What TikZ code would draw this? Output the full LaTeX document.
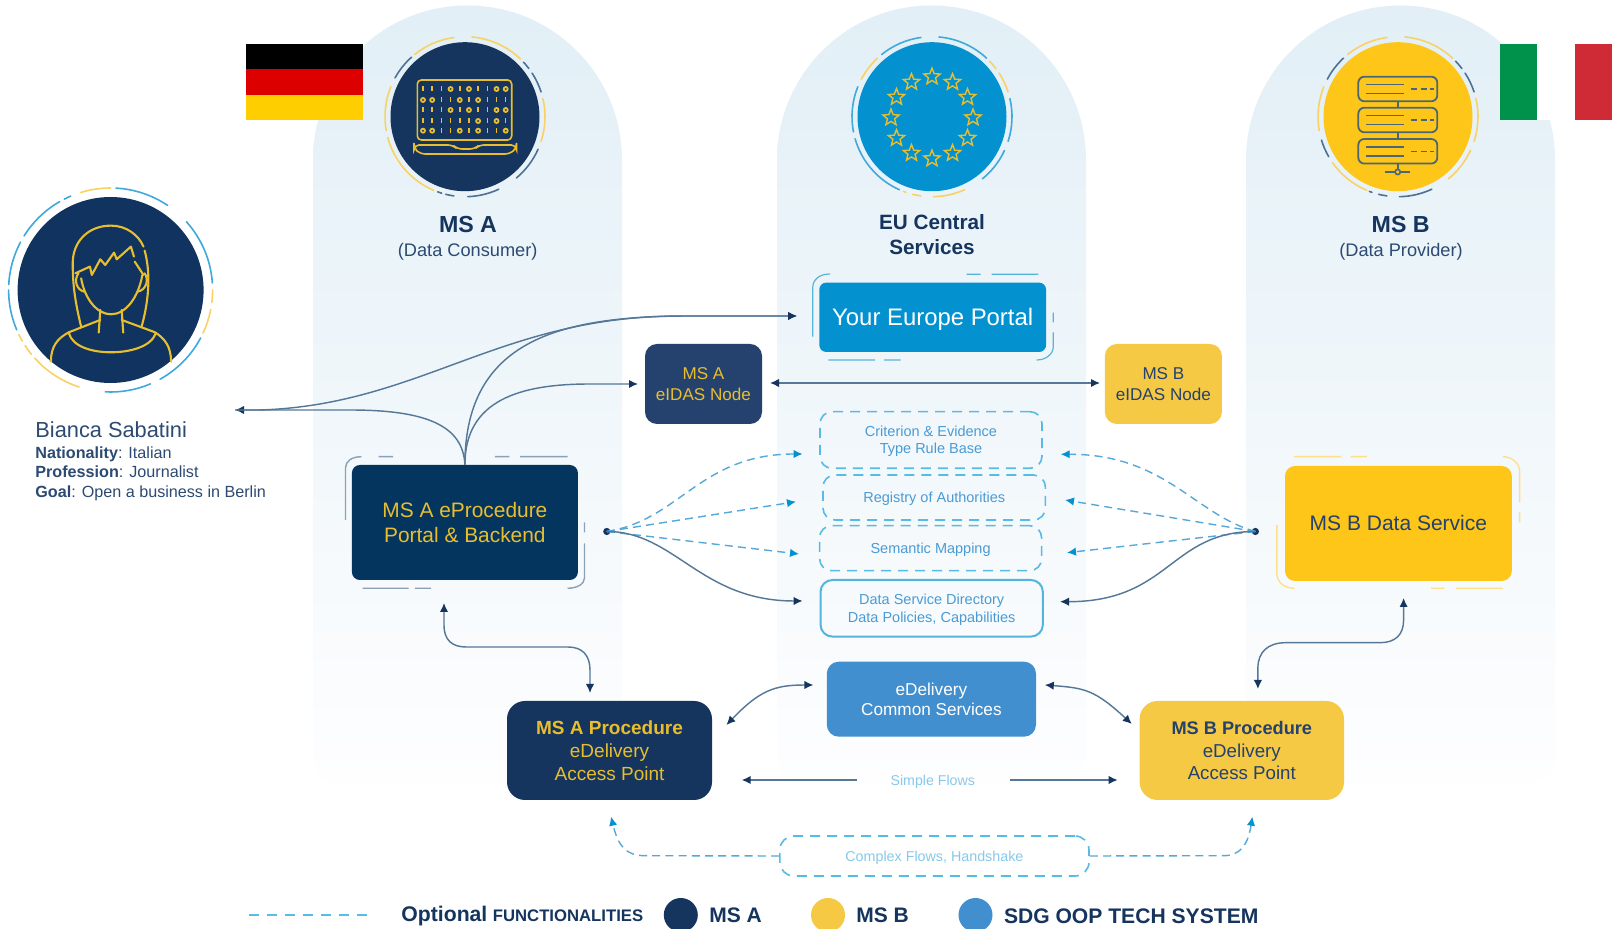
\documentclass[tikz,border=0pt]{standalone}
\usepackage{fontspec}
\setmainfont{Liberation Sans}
\usetikzlibrary{arrows.meta,shapes.geometric,calc}
\definecolor{navy}{HTML}{15355E}
\definecolor{navyb}{HTML}{04355F}
\definecolor{navyc}{HTML}{24426D}
\definecolor{persona}{HTML}{10345F}
\definecolor{eublue}{HTML}{0392CF}
\definecolor{midblue}{HTML}{418FCE}
\definecolor{gold}{HTML}{FFC61A}
\definecolor{softgold}{HTML}{F6C945}
\definecolor{icongold}{HTML}{E8BE2E}
\definecolor{ringyel}{HTML}{F8D266}
\definecolor{ringblue}{HTML}{3FA9DC}
\definecolor{ringnavy}{HTML}{4C7296}
\definecolor{pale}{HTML}{55B4DC}
\definecolor{paleyel}{HTML}{FFE08A}
\definecolor{grayframe}{HTML}{8CA1B5}
\definecolor{dashcol}{HTML}{57BBE3}
\definecolor{flowcol}{HTML}{55A9D8}
\definecolor{linecol}{HTML}{557899}
\definecolor{smalltxt}{HTML}{4A9BD4}
\definecolor{ghost}{HTML}{87C9EA}
\definecolor{headtxt}{HTML}{2C4A72}
\definecolor{servercol}{HTML}{4B6775}
\definecolor{flagred}{HTML}{DD0000}
\definecolor{flagyel}{HTML}{FFCE00}
\definecolor{itg}{HTML}{00924A}
\definecolor{itr}{HTML}{CE2B37}
\definecolor{colhi}{HTML}{E2EFF6}
\definecolor{collo}{HTML}{FEFEFF}
\newcommand{\fs}[1]{\fontsize{#1}{\fpeval{#1*1.2}}\selectfont}
\tikzset{
  tipD/.tip={Latex[length=4.5pt,width=4.2pt,color=navy]},
  tipL/.tip={Latex[length=4.5pt,width=4.2pt,color=eublue]},
  bx/.style={rounded corners=6pt,inner sep=0pt,align=center},
  dbox/.style={bx,text depth=0pt,draw=dashcol,line width=.8pt,dash pattern=on 5pt off 3.5pt,text=smalltxt},
  txt/.style={inner sep=0pt,align=center},
  flow/.style={draw=linecol,line width=.72pt},
  opt/.style={draw=flowcol,line width=.7pt,dash pattern=on 4pt off 2.6pt},
  ring/.style={line width=.8pt,line cap=round},
  colshade/.style={top color=colhi,bottom color=collo},
  disc/.style={circle,inner sep=0pt},
}
\newcommand{\columnshape}[1]{%
  \shade[colshade] (#1,160) arc[start angle=180,end angle=360,radius=154.5]
    -- ({#1+309},755) arc[start angle=0,end angle=90,radius=30]
    -- ({#1+30},785) arc[start angle=90,end angle=180,radius=30] -- cycle;}
\begin{document}
\begin{tikzpicture}[x=0.5pt,y=-0.5pt]
\useasboundingbox (0,0) rectangle (1614,929);
\fill[white] (0,0) rectangle (1614,929);
% columns
\columnshape{313}
\columnshape{777}
\columnshape{1246}
% flags
\fill[black] (246,44) rectangle (363,69.5);
\fill[flagred] (246,69.5) rectangle (363,95);
\fill[flagyel] (246,95) rectangle (363,120);
\fill[white] (1537,44) rectangle (1575,120);
\fill[itg] (1500,44) rectangle (1537,120);
\fill[itr] (1575,44) rectangle (1612,120);
% discs
\node[disc,fill=persona,minimum size=93pt] (person) at (110.6,290) {};
\node[disc,fill=navy,minimum size=74.5pt] (discA) at (465,116.7) {};
\node[disc,fill=eublue,minimum size=74.5pt] (discEU) at (932,116.7) {};
\node[disc,fill=gold,minimum size=74.5pt] (discB) at (1398,116.7) {};
% rings
\begin{scope}[shift={(110.6,290)},yscale=-1]
\foreach \c/\a/\b in {ringyel/107/90,ringblue/87/56,ringblue/42/4,ringyel/0/-7,ringyel/-11/-25,ringblue/-28/-61,ringblue/-67/-93,ringyel/-108/-138,ringyel/-141/-147,ringyel/-150/-154,ringblue/-157/-180,ringblue/177/152,ringblue/148/120,ringblue/117/113}
  \draw[ring,\c] (\a:102) arc[start angle=\a,end angle=\b,radius=102];
\end{scope}
\begin{scope}[shift={(465,116.7)},yscale=-1]
\foreach \c/\a/\b in {ringyel/129/98,ringyel/85/46,ringnavy/43/37,ringnavy/33/18,ringyel/13/-18,ringnavy/-24/-50,ringnavy/-65/-88,ringnavy/-98/-104,ringnavy/-107/-110,ringyel/-113/-165,ringyel/-170/-202,ringnavy/151/132}
  \draw[ring,\c] (\a:80) arc[start angle=\a,end angle=\b,radius=80];
\end{scope}
\begin{scope}[shift={(932,116.7)},yscale=-1]
\foreach \c/\a/\b in {ringyel/152/133,ringblue/129/98,ringblue/85/47,ringyel/44/37,ringyel/33/18,ringblue/13/-18,ringblue/-25/-51,ringyel/-66/-89,ringyel/-98/-104,ringyel/-109/-111,ringblue/-114/-164,ringblue/-169/-202}
  \draw[ring,\c] (\a:80) arc[start angle=\a,end angle=\b,radius=80];
\end{scope}
\begin{scope}[shift={(1398,116.7)},yscale=-1]
\foreach \c/\a/\b in {ringyel/129/98,ringyel/85/47,ringnavy/44/37,ringnavy/33/18,ringyel/13/-18,ringyel/-25/-51,ringnavy/-65/-89,ringnavy/-98/-104,ringnavy/-109/-111,ringyel/-113/-145,ringnavy/-150/-163,ringyel/-170/-202,ringnavy/152/133}
  \draw[ring,\c] (\a:80) arc[start angle=\a,end angle=\b,radius=80];
\end{scope}
% stars
\foreach \k in {0,30,...,330}
  \node[star,star points=5,star point ratio=2.3,draw=icongold,line width=.7pt,inner sep=0pt,minimum size=8.6pt] (st\k) at ($(discEU)+(\k:41)+(0,1)$) {};
% laptop
\draw[icongold,line width=.8pt,rounded corners=2pt] (417.3,80) rectangle (511.7,140);
\draw[icongold,line width=.8pt,rounded corners=2.5pt] (414,145) -- (453,145) -- (457,149) -- (475,149) -- (479,145) -- (516.5,145) -- (516.5,148) -- (510,154) -- (420,154) -- (414,148) -- cycle;
\foreach \yy/\pat in {89/{0,0,0,1,0,1,0,0,1,1},100/{1,1,0,0,1,0,1,0,0,0},110/{0,0,0,1,0,1,0,0,1,1},121/{0,0,0,0,0,0,1,0,1,0},130.7/{1,1,0,0,1,0,1,0,0,1}}{
  \foreach \v [count=\i, evaluate=\i as \xx using 423+(\i-1)*9.19] in \pat {
    \ifnum\v=1 \draw[icongold,line width=.9pt] (\xx,\yy) circle (2);
    \else \draw[icongold,line width=.75pt] (\xx,\yy-2.5) -- (\xx,\yy+2.5); \fi
  }
}
% server
\foreach \ty in {76.7,107.7,139}{
  \draw[servercol,line width=.9pt,rounded corners=3pt] (1358.3,\ty) rectangle (1437.3,\ty+24.6);
  \draw[servercol,line width=.8pt] (1366,\ty+8) -- (1404,\ty+8);
  \draw[servercol,line width=.8pt] (1366,\ty+17) -- (1404,\ty+17);
  \draw[servercol,line width=.8pt,dash pattern=on 3.2pt off 1.6pt] (1411,\ty+12.5) -- (1434,\ty+12.5);
}
\draw[servercol,line width=.9pt] (1397.7,101.3) -- (1397.7,107.7) (1397.7,132.3) -- (1397.7,139) (1397.7,163.6) -- (1397.7,169.5);
\draw[servercol,line width=.9pt] (1385,172) -- (1395,172) (1400.5,172) -- (1410,172);
\draw[servercol,line width=.8pt] (1397.7,172) circle (2.6);
% person icon
\begin{scope}[xscale=.3827,yscale=.3333,icongold,line width=1.05pt,line cap=round,line join=round]
\draw (212,980) .. controls (195,900) and (190,850) .. (190,790) .. controls (190,725) and (230,677) .. (290,677) .. controls (330,677) and (362,705) .. (375,740);
\draw (378,752) .. controls (392,810) and (392,890) .. (370,980);
\draw (197,820) -- (235,800) -- (240,825) -- (262,778) -- (275,795) -- (298,758) -- (305,778) -- (342,740) -- (350,770);
\draw (352,785) -- (375,825);
\draw (212,835) .. controls (222,900) and (255,943) .. (290,943) .. controls (330,943) and (362,890) .. (372,825);
\draw (205,820) .. controls (192,840) and (200,870) .. (220,875);
\draw (378,820) .. controls (390,840) and (382,870) .. (360,875);
\draw (262,930) -- (258,998) (318,930) -- (322,998);
\draw (262,960) -- (180,997) .. controls (150,1015) and (133,1040) .. (133,1085);
\draw (318,960) -- (405,997) .. controls (430,1015) and (447,1040) .. (447,1085);
\draw (180,1000) .. controls (190,1040) and (240,1057) .. (290,1057) .. controls (340,1057) and (395,1040) .. (407,1000);
\end{scope}
% headings
\node[txt,text=navy,font=\bfseries\fs{11.6}] (hA) at (468,225) {MS A};
\node[txt,text=headtxt,font=\fs{9.1}] (sA) at (467.7,251.5) {(Data Consumer)};
\node[txt,text=navy,font=\bfseries\fs{10.35}] (hEU) at (932,235) {EU Central\\Services};
\node[txt,text=navy,font=\bfseries\fs{11.6}] (hB) at (1400.7,225) {MS B};
\node[txt,text=headtxt,font=\fs{9.1}] (sB) at (1401,251.5) {(Data Provider)};
% person text
\node[inner sep=0pt,anchor=base west,text=headtxt,font=\fs{10.9}] (bName) at (35,438) {Bianca Sabatini};
\node[inner sep=0pt,anchor=base west,text=headtxt,font=\fs{8.08}] (bNat) at (35,458.5) {\textbf{Nationality}: Italian};
\node[inner sep=0pt,anchor=base west,text=headtxt,font=\fs{8.08}] (bPro) at (35,478) {\textbf{Profession}: Journalist};
\node[inner sep=0pt,anchor=base west,text=headtxt,font=\fs{8.08}] (bGoal) at (35,497.5) {\textbf{Goal}: Open a business in Berlin};
% boxes
\node[bx,text depth=0pt,fill=eublue,text=white,font=\fs{11.95},minimum width=113.4pt,minimum height=34.7pt,rounded corners=3.5pt] (portal) at (932.7,317.3) {Your Europe Portal};
\node[bx,fill=navyc,text=icongold,font=\fs{8.55},minimum width=58.5pt,minimum height=40pt] (eidasA) at (703.5,384) {MS A\\eIDAS Node};
\node[bx,fill=softgold,text=navyc,font=\fs{8.55},minimum width=58.5pt,minimum height=40pt] (eidasB) at (1163.4,384) {MS B\\eIDAS Node};
\node[bx,fill=navyb,text=icongold,font=\fs{10.45},minimum width=113pt,minimum height=57.5pt,rounded corners=4pt] (portalA) at (464.9,522.5) {MS A eProcedure\\Portal \& Backend};
\node[bx,fill=gold,text=navyc,font=\fs{10.5},minimum width=113.4pt,minimum height=57.5pt,rounded corners=5pt] (dataB) at (1398.4,523.5) {MS B Data Service};
\node[dbox,font=\fs{7.25},minimum width=111pt,minimum height=28.3pt] (crit) at (931,440) {Criterion \& Evidence\\Type Rule Base};
\node[dbox,font=\fs{7.25},minimum width=111.2pt,minimum height=22.5pt] (reg) at (934.2,497.5) {Registry of Authorities};
\node[dbox,font=\fs{7.25},minimum width=111pt,minimum height=22.5pt] (sem) at (930.6,548.2) {Semantic Mapping};
\node[bx,text depth=0pt,draw=pale,line width=1pt,text=smalltxt,font=\fs{7.25},minimum width=111.2pt,minimum height=28.3pt] (dir) at (931.7,608.3) {Data Service Directory\\Data Policies, Capabilities};
\node[bx,fill=midblue,text=white,font=\fs{8.6},minimum width=104.6pt,minimum height=37.5pt] (common) at (931.4,699.2) {eDelivery\\Common Services};
\node[bx,text depth=-1pt,fill=navy,text=icongold,font=\fs{9.5},minimum width=102.5pt,minimum height=49.5pt,rounded corners=9pt] (procA) at (609.5,750.5) {\textbf{MS A Procedure}\\eDelivery\\Access Point};
\node[bx,text depth=-1pt,fill=softgold,text=navyc,font=\fs{9.35},minimum width=102.2pt,minimum height=49.5pt,rounded corners=9pt] (procB) at (1241.8,750.5) {{\fs{9.1}\textbf{MS B Procedure}}\\eDelivery\\Access Point};
\node[txt,text=ghost,font=\fs{7.1}] (simple) at (932.8,781.5) {Simple Flows};
\node[dbox,text=ghost,font=\fs{7.15},minimum width=154.6pt,minimum height=20pt,rounded corners=7pt] (complex) at (934.4,856) {Complex Flows, Handshake};
% frames
\draw[pale,line width=.6pt] (812.7,336.7) -- (812.7,288) .. controls (812.7,279) and (820,274) .. (830,274);
\draw[pale,line width=.6pt] (966.7,274.3) -- (980.7,274.3) (991.7,274.3) -- (1038.3,274.3) (1053.3,312.7) -- (1053.3,322.3) (1053.3,332.3) -- (1053.3,346.7) .. controls (1053.3,354) and (1046,360) .. (1036.7,360) (828.3,360) -- (875,360) (884,360) -- (900.7,360);
\draw[grayframe,line width=.7pt] (345.5,520) -- (345.5,468) .. controls (345.5,461) and (352,456.7) .. (361.5,456.7) (378.5,456.7) -- (393,456.7) (494.8,456.7) -- (509.3,456.7) (520,456.7) -- (567.5,456.7) (584.5,522.3) -- (584.5,532.3) (584.5,543.3) -- (584.5,578) .. controls (584.5,584) and (577,588.3) .. (567.5,588.3) (362.5,588.3) -- (408.5,588.3) (414.8,588.3) -- (430.8,588.3);
\draw[paleyel,line width=.7pt] (1293.9,456.7) -- (1341,456.7) (1350.7,456.7) -- (1366.8,456.7) (1502.9,456.7) .. controls (1512,456.7) and (1519.6,463) .. (1519.6,471.7) -- (1519.6,502.3) (1519.6,512.3) -- (1519.6,522.3) (1276.8,525) -- (1276.8,573.3) .. controls (1276.8,582) and (1284,588.3) .. (1294.6,588.3) (1431,588.3) -- (1444.6,588.3) (1456,588.3) -- (1502.5,588.3);
% connector ends
\coordinate (tipBianca) at (235,410);
\coordinate (tipPortal) at (797,316);
\coordinate (tipEidasA) at (638,384);
\coordinate (tipEidasL) at (770,383);
\coordinate (tipEidasR) at (1100,383);
\coordinate (dotL) at (606.8,531.5);
\coordinate (dotR) at (1255.4,531.5);
\coordinate (tCritL) at (802.6,454);
\coordinate (tRegL) at (796,501.7);
\coordinate (tSemL) at (799,554);
\coordinate (tDirL) at (802.6,601);
\coordinate (tCritR) at (1060.7,454.3);
\coordinate (tRegR) at (1065,500);
\coordinate (tSemR) at (1067,552.7);
\coordinate (tDirR) at (1060,601.7);
\coordinate (tPA) at (444,603);
\coordinate (tPB) at (590,693);
\coordinate (tQA) at (1403.6,598);
\coordinate (tQB) at (1257.9,689);
\coordinate (cA) at (726.4,725);
\coordinate (cB) at (813.4,685);
\coordinate (cC) at (1044.8,685);
\coordinate (cD) at (1131.8,724);
\coordinate (sL) at (741.7,780);
\coordinate (sR) at (1117.7,780);
\coordinate (xL) at (611,816.7);
\coordinate (xR) at (1252.4,816.7);
% connectors
\draw[flow,tipD-tipD] (tipEidasL) -- (tipEidasR);
\draw[flow,-tipD] (portalA.north) .. controls (463,425) and (425,410) .. (350,410) -- (tipBianca);
\draw[flow,-tipD] (tipBianca) -- (260,410) .. controls (420,405) and (500,316) .. (680,316) -- (tipPortal);
\draw[flow,-tipD] (portalA.north) .. controls (465,340) and (560,316) .. (690,316) -- (tipPortal);
\draw[flow,-tipD] (portalA.north) .. controls (465,400) and (520,384) .. (590,384) -- (tipEidasA);
\fill[navy] (dotL) circle (3.6);
\fill[navy] (dotR) circle (3.6);
\draw[opt,-tipL] (dotL) .. controls (680,520) and (700,454) .. (tCritL);
\draw[opt,-tipL] (dotL) -- (tRegL);
\draw[opt,-tipL] (dotL) -- (tSemL);
\draw[flow,-tipD] (dotL) .. controls (675,531.5) and (700,601) .. (tDirL);
\draw[opt,-tipL] (dotR) .. controls (1195,515) and (1165,454) .. (tCritR);
\draw[opt,-tipL] (dotR) -- (tRegR);
\draw[opt,-tipL] (dotR) -- (tSemR);
\draw[flow,-tipD] (dotR) .. controls (1170,531.5) and (1170,601.7) .. (tDirR);
\draw[flow,tipD-tipD] (tPA) -- (444,625) .. controls (444,640) and (452,647) .. (466,647) -- (568,647) .. controls (582,647) and (590,655) .. (590,670) -- (tPB);
\draw[flow,tipD-tipD] (tQA) -- (1403.6,620) .. controls (1403.6,635) and (1395,642.7) .. (1380,642.7) -- (1285.7,642.7) .. controls (1268,642.7) and (1257.9,652) .. (1257.9,668) -- (tQB);
\draw[flow,tipD-tipD] (cA) .. controls (760,690) and (775,685) .. (cB);
\draw[flow,tipD-tipD] (cC) .. controls (1085,688) and (1095,690) .. (cD);
\draw[flow,-tipD] (simple.west) ++(-33,-1.5) -- (sL);
\draw[flow,-tipD] (simple.east) ++(35,-1.5) -- (sR);
\draw[opt,-tipL] (complex.west) -- (645,855.7) .. controls (625,855.7) and (618,845) .. (xL);
\draw[opt,-tipL] (complex.east) -- (1223.6,855.7) .. controls (1240,855.7) and (1248,845) .. (xR);
% legend
\coordinate (lgA) at (248.8,915);
\coordinate (lgB) at (370.6,915);
\draw[dashcol,line width=.9pt,dash pattern=on 5pt off 4pt] (lgA) -- (lgB);
\node[inner sep=0pt,anchor=base west,text=navy,font=\bfseries\fs{10.6}] (lgOpt) at (401,921.5) {Optional};
\node[inner sep=0pt,anchor=base west,text=navy,font=\bfseries\fs{8.35}] (lgFun) at (492.5,921.5) {FUNCTIONALITIES};
\node[disc,fill=navy,minimum size=17pt] (lgCA) at (680.8,915) {};
\node[inner sep=0pt,anchor=base west,text=navy,font=\bfseries\fs{10.5}] (lgTA) at (709,923) {MS A};
\node[disc,fill=softgold,minimum size=17pt] (lgCB) at (828,915) {};
\node[inner sep=0pt,anchor=base west,text=navy,font=\bfseries\fs{10.5}] (lgTB) at (856,923) {MS B};
\node[disc,fill=midblue,minimum size=17pt] (lgCC) at (975.5,915) {};
\node[inner sep=0pt,anchor=base west,text=navy,font=\bfseries\fs{10.55}] (lgTC) at (1003.6,924) {SDG OOP TECH SYSTEM};
\end{tikzpicture}
\end{document}
